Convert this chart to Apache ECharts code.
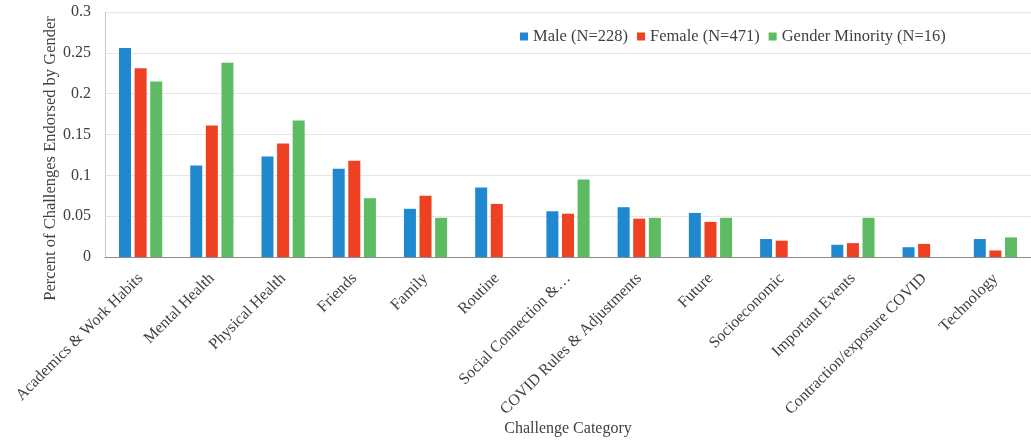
<!DOCTYPE html>
<html>
<head>
<meta charset="utf-8">
<script src="https://cdn.jsdelivr.net/npm/echarts@6/dist/echarts.min.js"></script>
<style>
  html, body { margin: 0; padding: 0; background: #fff; }
  #chart { width: 1031px; height: 443px; }
</style>
</head>
<body>
<div id="chart"></div>
<script>
// 类别
var categories = ['Academics & Work Habits', 'Mental Health', 'Physical Health', 'Friends', 'Family', 'Routine',
  'Social Connection &…', 'COVID Rules & Adjustments', 'Future', 'Socioeconomic', 'Important Events',
  'Contraction/exposure COVID', 'Technology']
// 各性别数据
var male = [0.256, 0.112, 0.123, 0.108, 0.059, 0.085, 0.056, 0.061, 0.054, 0.022, 0.015, 0.012, 0.022]
var female = [0.231, 0.161, 0.139, 0.118, 0.075, 0.065, 0.053, 0.047, 0.043, 0.020, 0.017, 0.016, 0.008]
var minority = [0.215, 0.238, 0.167, 0.072, 0.048, 0, 0.095, 0.048, 0.048, 0, 0.048, 0, 0.024]
var seriesNames = ['Male (N=228)', 'Female (N=471)', 'Gender Minority (N=16)']
var yTicks = [0, 0.05, 0.1, 0.15, 0.2, 0.25, 0.3]

var font = 'Liberation Serif, Times New Roman, serif'
var colors = ['#2088cf', '#ee4123', '#5dbb63']

var chart = echarts.init(document.getElementById('chart'))

var series = [male, female, minority].map(function (d, i) {
  return {
    name: seriesNames[i],
    type: 'bar',
    data: d,
    barWidth: 12,
    barGap: '30%',
    itemStyle: { color: colors[i] }
  }
})

chart.setOption({
  animation: false,
  color: colors,
  textStyle: { fontFamily: font },
  legend: {
    data: seriesNames,
    left: 515,
    top: 23,
    icon: 'rect',
    itemWidth: 8,
    itemHeight: 8,
    itemGap: 9,
    textStyle: { fontFamily: font, fontSize: 16.5, color: '#404040' }
  },
  grid: {
    left: 105,
    right: 0,
    top: 12,
    bottom: 186,
    outerBoundsMode: 'none'
  },
  xAxis: {
    type: 'category',
    data: categories,
    name: 'Challenge Category',
    nameLocation: 'middle',
    nameGap: 164,
    nameMoveOverlap: false,
    nameTextStyle: { fontFamily: font, fontSize: 16, color: '#404040' },
    axisLine: { lineStyle: { color: '#8c8c8c', width: 1 } },
    axisTick: { show: false },
    axisLabel: {
      rotate: 45,
      interval: 0,
      margin: 19,
      fontFamily: font,
      fontSize: 16,
      color: '#404040'
    }
  },
  yAxis: {
    type: 'value',
    min: yTicks[0],
    max: yTicks[yTicks.length - 1],
    interval: 0.05,
    name: 'Percent of Challenges Endorsed by Gender',
    nameLocation: 'middle',
    nameGap: 46,
    nameMoveOverlap: false,
    nameTextStyle: { fontFamily: font, fontSize: 16.5, color: '#404040', padding: [0, 48, 0, 0] },
    axisLine: { show: true, lineStyle: { color: '#c8c8c8' } },
    axisTick: { show: false },
    axisLabel: {
      margin: 14,
      fontFamily: font,
      fontSize: 16,
      color: '#404040',
      formatter: function (v) { return String(+v.toFixed(2)) }
    },
    splitLine: { lineStyle: { color: '#e6e6e6' } }
  },
  series: series
})
</script>
</body>
</html>
